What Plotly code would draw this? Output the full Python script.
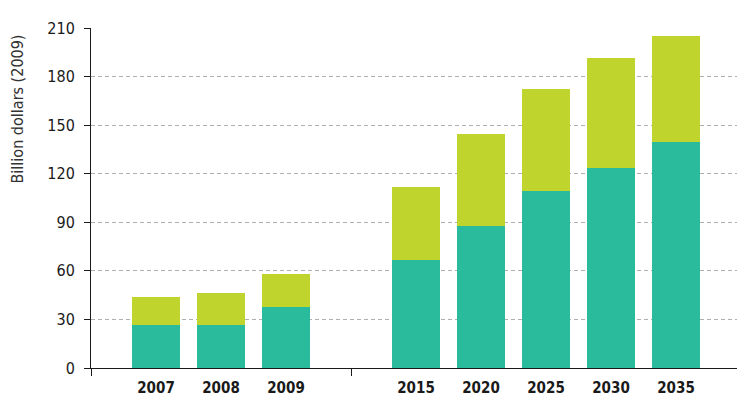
import plotly.graph_objects as go

years = ["2007", "2008", "2009", "2015", "2020", "2025", "2030", "2035"]
positions = [0, 1, 2, 4, 5, 6, 7, 8]
lower_values = [26.3, 26.3, 37.8, 66.8, 87.9, 109.5, 123.3, 139.7]
totals = [44.1, 46.6, 58.1, 112.0, 144.6, 172.6, 191.5, 205.3]
upper_values = [round(t - l, 1) for t, l in zip(totals, lower_values)]
y_ticks = [0, 30, 60, 90, 120, 150, 180, 210]
y_title = "Billion dollars (2009)"

teal = "#2abb9d"
lime = "#bfd52e"
font_family = "DejaVu Sans Condensed, DejaVu Sans, sans-serif"

fig = go.Figure()
fig.add_trace(go.Bar(x=positions, y=lower_values, marker=dict(color=teal, line=dict(width=0)),
                     width=0.74, name="lower"))
fig.add_trace(go.Bar(x=positions, y=upper_values, marker=dict(color=lime, line=dict(width=0)),
                     width=0.74, name="upper"))

# page body has an 8px default margin, so the figure is sized to fill the rest
fig.update_layout(
    barmode="stack",
    width=737, height=412,
    margin=dict(l=83, r=4, t=20, b=52, autoexpand=False),
    paper_bgcolor="white", plot_bgcolor="white",
    showlegend=False,
    font=dict(family=font_family, color="#1a1a1a"),
)
fig.add_annotation(
    text=y_title, textangle=-90,
    xref="paper", yref="paper", x=0, y=1,
    xanchor="center", yanchor="top", xshift=-74, yshift=-5,
    showarrow=False,
    font=dict(size=16, color="#333333", family=font_family),
)
fig.update_xaxes(
    range=[-1, 9], automargin=False,
    tickmode="array", tickvals=positions, ticktext=years,
    ticks="", showgrid=False, zeroline=False,
    ticklabelstandoff=6,
    showline=True, linecolor="#1a1a1a", linewidth=1,
    tickfont=dict(size=15, family="DejaVu Sans Condensed", color="#1a1a1a", weight="bold"),
    minor=dict(tickmode="array", tickvals=[-1, 3, 9], ticks="outside", ticklen=7,
               tickcolor="#1a1a1a", tickwidth=1, showgrid=False),
)
fig.update_yaxes(
    range=[0, 210], automargin=False,
    tickmode="array", tickvals=y_ticks,
    ticks="outside", ticklen=6, tickcolor="#1a1a1a", tickwidth=1,
    ticklabelstandoff=6,
    showline=True, linecolor="#1a1a1a", linewidth=1,
    showgrid=True, gridcolor="#b0b0b0", gridwidth=1, griddash="4px,3px",
    zeroline=False,
    tickfont=dict(size=16, color="#1a1a1a"),
)

fig.write_html("out.html")
